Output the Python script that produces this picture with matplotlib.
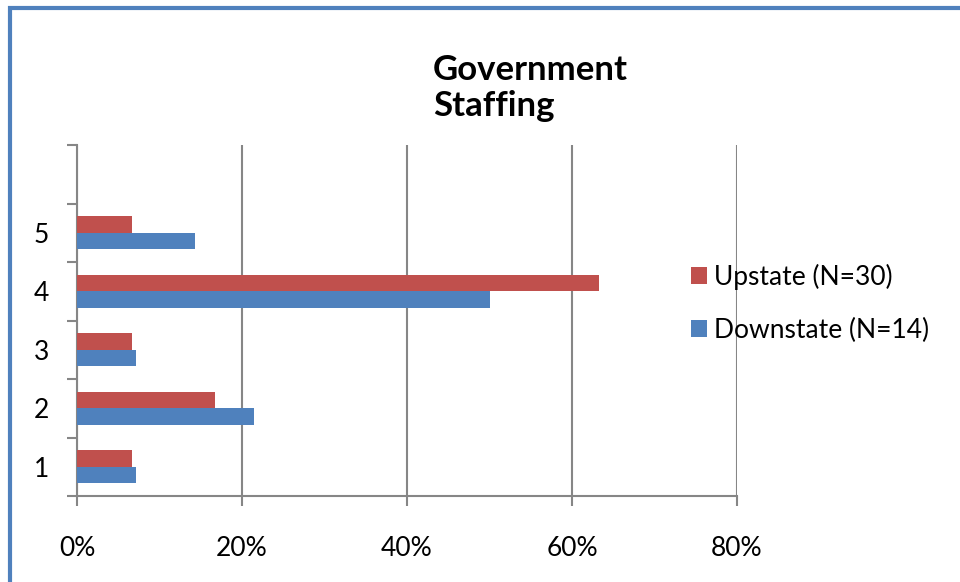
import matplotlib.pyplot as plt
import matplotlib.patches as patches
import numpy as np

plt.rcParams['font.family'] = ['Lato', 'DejaVu Sans']

# Data (share of respondents)
categories = ['1', '2', '3', '4', '5', '']
upstate = [6.7, 16.7, 6.7, 63.3, 6.7, 0]
downstate = [7.1, 21.4, 7.1, 50.0, 14.3, 0]
x_ticks = [0, 20, 40, 60, 80]

RED = '#C0504D'
BLUE = '#4F81BD'
GRID = '#868686'

fig = plt.figure(figsize=(9.6, 5.82), dpi=100)
ax = fig.add_axes([77 / 960, 86 / 582, 660 / 960, 351 / 582])

y = np.arange(len(categories))
h = 0.28
ax.barh(y + h / 2, upstate, h, color=RED, label='Upstate (N=30)', zorder=3)
ax.barh(y - h / 2, downstate, h, color=BLUE, label='Downstate (N=14)', zorder=3)

ax.set_xlim(0, 80)
ax.set_ylim(-0.5, len(categories) - 0.5)
ax.set_xticks(x_ticks)
ax.set_xticklabels([f'{v}%' for v in x_ticks], fontsize=19)
ax.set_yticks(y)
ax.set_yticklabels(categories, fontsize=19)
ax.set_yticks(np.arange(-0.5, len(categories), 1), minor=True)
ax.tick_params(axis='y', which='major', length=0, pad=20)
ax.tick_params(axis='y', which='minor', length=7, width=1.5, color=GRID)
ax.tick_params(axis='x', length=7, width=1.5, color=GRID, pad=22)

ax.xaxis.grid(True, color=GRID, linewidth=1.5, zorder=0)
for s in ['top', 'right']:
    ax.spines[s].set_visible(False)
for s in ['left', 'bottom']:
    ax.spines[s].set_color(GRID)
    ax.spines[s].set_linewidth(1.5)

fig.text(433 / 960, 1 - 54 / 582, 'Government\nStaffing', fontsize=25,
         fontweight='bold', ha='left', va='top', linespacing=1.15)

handles, labels = ax.get_legend_handles_labels()
fig.legend(handles, labels, loc='upper left', bbox_to_anchor=(667 / 960, 1 - 240 / 582),
           frameon=False, fontsize=19, handlelength=0.6, handleheight=0.6,
           handletextpad=0.3, labelspacing=1.05)

# outer chart border (right and bottom edges fall outside the image)
border = patches.Rectangle((10 / 960, -0.1), 1.0, 1.1 - 8 / 582, transform=fig.transFigure,
                           fill=False, edgecolor='#4F81BD', linewidth=3, clip_on=False)
fig.patches.append(border)

plt.savefig('out.png', dpi=100)
